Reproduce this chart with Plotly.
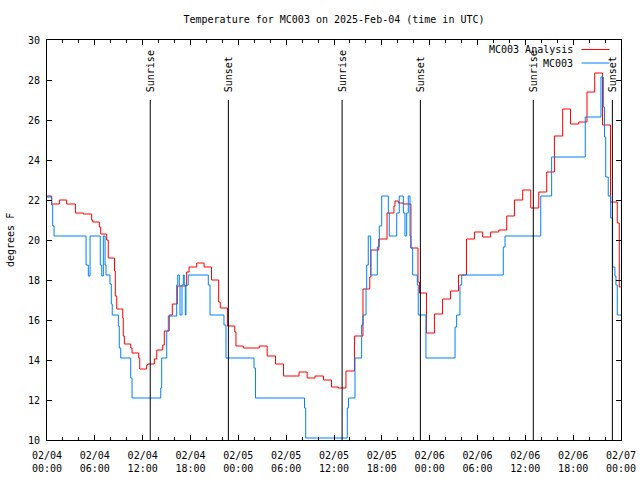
import plotly.graph_objects as go

# ---------------- data ----------------
red_times = [
    "2025-02-04 00:00", "2025-02-04 00:35", "2025-02-04 01:33", "2025-02-04 02:28", "2025-02-04 03:34",
    "2025-02-04 04:33", "2025-02-04 05:36", "2025-02-04 05:44", "2025-02-04 06:34", "2025-02-04 06:44",
    "2025-02-04 07:29", "2025-02-04 07:41", "2025-02-04 08:28", "2025-02-04 08:34", "2025-02-04 08:45",
    "2025-02-04 09:30", "2025-02-04 09:34", "2025-02-04 09:42", "2025-02-04 10:30", "2025-02-04 10:40",
    "2025-02-04 11:30", "2025-02-04 11:38", "2025-02-04 12:30", "2025-02-04 12:40", "2025-02-04 13:28",
    "2025-02-04 13:46", "2025-02-04 14:31", "2025-02-04 14:43", "2025-02-04 15:20", "2025-02-04 15:43",
    "2025-02-04 16:21", "2025-02-04 17:31", "2025-02-04 17:49", "2025-02-04 18:47", "2025-02-04 19:42",
    "2025-02-04 20:38", "2025-02-04 21:32", "2025-02-04 21:44", "2025-02-04 22:38", "2025-02-04 23:33",
    "2025-02-04 23:42",
    "2025-02-05 00:37", "2025-02-05 02:38", "2025-02-05 03:37", "2025-02-05 04:40", "2025-02-05 05:40",
    "2025-02-05 07:37", "2025-02-05 08:38", "2025-02-05 09:37", "2025-02-05 10:41", "2025-02-05 11:41",
    "2025-02-05 12:32", "2025-02-05 13:30", "2025-02-05 14:34", "2025-02-05 15:38", "2025-02-05 16:29",
    "2025-02-05 16:38", "2025-02-05 17:37", "2025-02-05 18:39", "2025-02-05 19:31", "2025-02-05 19:39",
    "2025-02-05 20:04", "2025-02-05 20:42", "2025-02-05 21:39", "2025-02-05 22:32", "2025-02-05 22:43",
    "2025-02-05 23:36",
    "2025-02-06 00:36", "2025-02-06 01:37", "2025-02-06 02:37", "2025-02-06 03:37", "2025-02-06 04:37",
    "2025-02-06 05:37", "2025-02-06 06:39", "2025-02-06 07:39", "2025-02-06 08:40", "2025-02-06 09:40",
    "2025-02-06 10:38", "2025-02-06 11:40", "2025-02-06 12:41", "2025-02-06 13:41", "2025-02-06 14:41",
    "2025-02-06 15:39", "2025-02-06 16:41", "2025-02-06 17:40", "2025-02-06 18:42", "2025-02-06 19:44",
    "2025-02-06 20:42", "2025-02-06 21:41", "2025-02-06 22:41", "2025-02-06 23:32", "2025-02-06 23:47",
    "2025-02-07 00:00",
]
red_temps = [
    22.2, 21.8, 22.0, 21.8, 21.35, 21.3, 21.0, 20.9, 20.65, 20.3,
    20.0, 19.1, 18.45, 17.2, 16.55, 16.1, 15.2, 14.8, 14.6, 14.35,
    14.1, 13.55, 13.75, 13.8, 14.05, 14.5, 14.75, 15.45, 16.25, 16.8,
    17.7, 18.4, 18.65, 18.85, 18.65, 18.0, 16.9, 16.6, 15.7, 15.4,
    14.7,
    14.6, 14.7, 14.2, 13.8, 13.2, 13.4, 13.1, 13.2, 13.0, 12.65,
    12.6, 13.45, 15.2, 17.55, 18.15, 19.5, 20.05, 21.35, 21.7, 21.95,
    21.85, 21.8, 19.6, 17.9, 17.35, 15.35,
    16.3, 17.05, 17.45, 18.25, 20.05, 20.4, 20.15, 20.4, 20.5, 21.2,
    22.0, 22.5, 21.6, 22.4, 23.4, 25.2, 26.55, 25.8, 25.9, 27.4,
    28.35, 25.75, 21.9, 20.85, 17.65, 17.65,
]

blue_times = [
    "2025-02-04 00:00", "2025-02-04 00:35", "2025-02-04 00:43", "2025-02-04 00:53", "2025-02-04 04:54",
    "2025-02-04 05:11", "2025-02-04 05:24", "2025-02-04 06:41", "2025-02-04 06:52", "2025-02-04 07:04",
    "2025-02-04 07:17", "2025-02-04 07:24", "2025-02-04 07:54", "2025-02-04 08:04", "2025-02-04 08:11",
    "2025-02-04 08:57", "2025-02-04 09:04", "2025-02-04 09:15", "2025-02-04 10:30", "2025-02-04 10:40",
    "2025-02-04 14:16", "2025-02-04 14:23", "2025-02-04 15:01", "2025-02-04 15:13", "2025-02-04 16:16",
    "2025-02-04 16:24", "2025-02-04 16:36", "2025-02-04 16:41", "2025-02-04 16:56", "2025-02-04 17:06",
    "2025-02-04 17:13", "2025-02-04 17:21", "2025-02-04 17:26", "2025-02-04 17:43", "2025-02-04 20:14",
    "2025-02-04 20:27", "2025-02-04 22:12", "2025-02-04 22:27",
    "2025-02-05 01:58", "2025-02-05 02:09", "2025-02-05 08:18", "2025-02-05 08:27", "2025-02-05 13:40",
    "2025-02-05 13:49", "2025-02-05 14:38", "2025-02-05 15:28", "2025-02-05 15:38", "2025-02-05 16:01",
    "2025-02-05 16:06", "2025-02-05 16:18", "2025-02-05 16:36", "2025-02-05 17:26", "2025-02-05 17:41",
    "2025-02-05 17:59", "2025-02-05 18:49", "2025-02-05 18:56", "2025-02-05 19:52", "2025-02-05 20:11",
    "2025-02-05 20:42", "2025-02-05 20:54", "2025-02-05 21:07", "2025-02-05 21:19", "2025-02-05 21:32",
    "2025-02-05 21:39", "2025-02-05 21:52", "2025-02-05 22:27", "2025-02-05 22:34", "2025-02-05 23:32",
    "2025-02-06 03:11", "2025-02-06 03:23", "2025-02-06 03:48", "2025-02-06 04:01", "2025-02-06 09:14",
    "2025-02-06 09:27", "2025-02-06 13:56", "2025-02-06 15:18", "2025-02-06 19:31", "2025-02-06 21:29",
    "2025-02-06 21:47", "2025-02-06 21:56", "2025-02-06 22:05", "2025-02-06 22:24", "2025-02-06 22:42",
    "2025-02-06 22:57", "2025-02-06 23:14", "2025-02-06 23:22", "2025-02-06 23:32", "2025-02-07 00:00",
]
blue_temps = [
    22.15, 21.75, 20.7, 20.2, 18.75, 18.2, 20.2, 18.75, 18.2, 20.2,
    18.75, 18.25, 17.8, 16.8, 16.25, 15.7, 14.6, 14.1, 13.1, 12.1,
    12.6, 14.1, 15.45, 16.2, 17.75, 18.25, 17.75, 16.25, 17.75, 18.25,
    17.75, 16.25, 17.75, 18.25, 17.75, 16.25, 15.75, 14.1,
    13.6, 12.1, 11.6, 10.1, 11.6, 12.1, 14.1, 15.75, 16.25, 17.6,
    18.75, 20.2, 18.25, 19.65, 20.7, 22.2, 21.35, 20.2, 21.35, 22.2,
    21.35, 20.2, 21.35, 22.2, 20.2, 19.6, 18.25, 17.75, 16.25, 14.1,
    15.65, 16.25, 17.75, 18.25, 19.65, 20.2, 22.2, 24.15, 26.15, 28.15,
    26.65, 25.15, 23.15, 22.2, 21.1, 18.65, 18.2, 17.75, 16.25, 16.25,
]

sunrise_times = ["2025-02-04 12:57", "2025-02-05 13:01", "2025-02-06 13:00"]
sunset_times = ["2025-02-04 22:45", "2025-02-05 22:50", "2025-02-06 22:55"]
sun_line_top = 27.0
sun_label_base = 27.3

series_names = ["MC003 Analysis", "MC003"]
title_text = "Temperature for MC003 on 2025-Feb-04 (time in UTC)"
y_title = "degrees F"
x_range = ["2025-02-04 00:00", "2025-02-07 00:00"]
y_range = [10, 30]

assert len(red_times) == len(red_temps)
assert len(blue_times) == len(blue_temps)

# ---------------- figure ----------------
FONT = "DejaVu Sans Mono"
RED = "#ff0000"
BLUE = "#0080ff"

fig = go.Figure()
fig.add_trace(go.Scatter(x=red_times, y=red_temps, mode="lines", name=series_names[0],
                         line=dict(color=RED, width=1, shape="hv")))
fig.add_trace(go.Scatter(x=blue_times, y=blue_temps, mode="lines", name=series_names[1],
                         line=dict(color=BLUE, width=1, shape="hv")))

for label, times in (("Sunrise", sunrise_times), ("Sunset", sunset_times)):
    for t in times:
        fig.add_shape(type="line", xref="x", yref="y", x0=t, x1=t, y0=y_range[0], y1=sun_line_top,
                      line=dict(color="black", width=1))
        fig.add_annotation(x=t, y=sun_label_base, xref="x", yref="y", text=label, textangle=-90,
                           showarrow=False, xanchor="center", yanchor="bottom",
                           font=dict(family=FONT, size=10, color="black"))

# gnuplot-style key (text, then line sample)
L, R, T, B = 47, 19, 40, 40
W, H = 640, 480
pw, ph = W - L - R, H - T - B
key_rows = [(series_names[0], RED, 49.5), (series_names[1], BLUE, 63)]
for name, col, ypx in key_rows:
    yp = (H - B - ypx) / ph
    fig.add_annotation(xref="paper", yref="paper", x=(575 - L) / pw, y=yp, text=name,
                       showarrow=False, xanchor="right", yanchor="middle",
                       font=dict(family=FONT, size=10, color="black"))
    fig.add_shape(type="line", xref="paper", yref="paper", x0=(581.5 - L) / pw, x1=(609.5 - L) / pw,
                  y0=yp, y1=yp, line=dict(color=col, width=1))

fig.add_annotation(xref="paper", yref="paper", x=(10 - L) / pw, y=0.5, text=y_title, textangle=-90,
                   showarrow=False, xanchor="center", yanchor="middle",
                   font=dict(family=FONT, size=10, color="black"))

axis_common = dict(
    showline=True, linecolor="black", linewidth=1, mirror="ticks",
    ticks="inside", ticklen=5, tickcolor="black", tickwidth=1,
    showgrid=False, zeroline=False, automargin=False,
    tickfont=dict(family=FONT, size=10, color="black"),
)

fig.update_layout(
    template="none",
    width=W, height=H, autosize=False,
    margin=dict(l=L, r=R, t=T, b=B, pad=0),
    paper_bgcolor="white", plot_bgcolor="white",
    showlegend=False,
    title=dict(text=title_text, x=(L + pw / 2) / W, xanchor="center", y=(H - 19) / H, yanchor="middle",
               font=dict(family=FONT, size=10, color="black")),
    xaxis=dict(type="date", range=x_range, tick0="2025-02-04 00:00", dtick=6 * 3600 * 1000,
               tickformat="%m/%d<br>%H:%M", ticklabelstandoff=6,
               minor=dict(dtick=2 * 3600 * 1000, ticks="inside", ticklen=3, tickcolor="black", showgrid=False),
               **axis_common),
    yaxis=dict(range=y_range, dtick=2, tick0=0, ticklabelstandoff=4, **axis_common),
)

fig.write_html("out.html", config={"displayModeBar": False},
               post_script="document.body.style.margin='0';document.body.style.overflow='hidden';")
